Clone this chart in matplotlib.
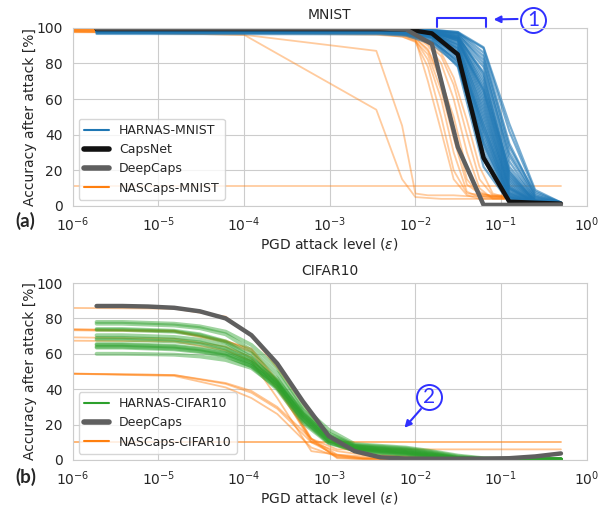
import matplotlib
matplotlib.use("Agg")
import matplotlib.pyplot as plt
import seaborn as sns
from matplotlib.lines import Line2D

sns.set_style("whitegrid")
plt.rcParams['font.family'] = ['DejaVu Sans']

# attack levels used for HARNAS / CapsNet / DeepCaps
eps = [1.9e-6, 3.8e-6, 7.6e-6, 1.53e-5, 3.05e-5, 6.1e-5, 1.22e-4, 2.44e-4, 4.88e-4,
       9.77e-4, 1.95e-3, 3.91e-3, 7.81e-3, 1.56e-2, 3.13e-2, 6.25e-2, 0.125, 0.25, 0.5]

### MNIST
capsnet_mnist = [99.2]*12 + [99.1, 96.8, 85.0, 27.0, 2.4, 1.8, 1.3]
deepcaps_mnist = [99.6]*12 + [99.0, 90.8, 33.0, 0.6, 0.6, 0.7, 0.8]

eps_harnas_mnist = [1.9e-6, 3.91e-3, 7.81e-3, 1.56e-2, 3.13e-2, 6.25e-2, 0.125, 0.25, 0.5]
harnas_mnist = [
    [99.2, 99.1, 98.8, 97.5, 93.0, 60.0, 12.0, 2.0, 1.0],
    [98.9, 98.8, 98.5, 96.8, 90.5, 52.0, 9.0, 1.5, 0.8],
    [98.6, 98.5, 98.0, 95.5, 86.0, 40.0, 5.0, 1.2, 0.6],
    [99.3, 99.2, 99.0, 98.2, 95.5, 72.0, 18.0, 3.0, 1.2],
    [98.0, 97.8, 97.2, 94.0, 80.0, 28.0, 3.0, 1.0, 0.5],
    [97.5, 97.3, 96.5, 93.0, 78.0, 22.0, 2.0, 0.8, 0.5],
    [99.0, 98.9, 98.6, 97.0, 92.0, 65.0, 15.0, 2.5, 1.0],
    [98.4, 98.3, 97.9, 96.0, 88.0, 45.0, 7.0, 1.4, 0.7],
    [99.4, 99.3, 99.2, 98.6, 96.5, 80.0, 25.0, 4.0, 1.5],
    [99.5, 99.4, 99.3, 98.9, 97.5, 86.0, 35.0, 6.0, 2.0],
    [97.0, 96.8, 96.0, 92.0, 82.0, 35.0, 4.0, 1.0, 0.5],
    [98.7, 98.6, 98.3, 97.2, 94.0, 68.0, 20.0, 3.5, 1.3],
    [99.1, 99.0, 98.7, 97.8, 94.5, 75.0, 22.0, 4.5, 1.6],
    [98.2, 98.1, 97.5, 95.0, 85.0, 38.0, 6.0, 1.3, 0.6],
    [99.4, 99.3, 99.1, 98.5, 97.0, 88.5, 42.0, 8.0, 2.0],
    [96.5, 96.3, 95.5, 91.0, 79.0, 30.0, 3.5, 0.9, 0.5],
    [98.8, 98.7, 98.4, 96.5, 91.0, 56.0, 10.0, 1.8, 0.8],
    [99.0, 98.9, 98.6, 97.3, 93.5, 62.0, 13.0, 2.2, 1.0],
    [98.5, 98.4, 98.0, 96.2, 89.0, 48.0, 8.0, 1.6, 0.7],
    [99.2, 99.1, 98.9, 98.0, 95.0, 78.0, 28.0, 5.0, 1.5],
    [97.8, 97.6, 97.0, 94.5, 84.0, 33.0, 4.5, 1.1, 0.5],
    [99.3, 99.2, 99.0, 98.4, 96.0, 82.0, 30.0, 5.5, 1.8],
    [98.3, 98.2, 97.7, 95.8, 87.0, 43.0, 6.5, 1.4, 0.6],
    [98.9, 98.8, 98.5, 97.0, 92.5, 58.0, 11.0, 2.0, 0.9],
    [99.1, 99.0, 98.8, 97.6, 94.0, 70.0, 16.0, 3.0, 1.1],
    [97.2, 97.0, 96.3, 92.5, 81.0, 26.0, 2.5, 0.8, 0.5],
    [99.4, 99.3, 99.2, 98.7, 96.8, 84.0, 33.0, 7.0, 1.9],
    [98.6, 98.5, 98.1, 96.0, 88.5, 50.0, 9.5, 1.7, 0.8],
    [99.0, 98.9, 98.7, 97.4, 93.0, 64.0, 14.0, 2.6, 1.0],
    [98.1, 98.0, 97.4, 94.8, 86.0, 42.0, 5.5, 1.2, 0.6],
    [99.3, 99.2, 99.0, 98.6, 97.6, 89.0, 46.0, 9.0, 2.0],
    [98.8, 98.7, 98.3, 96.6, 90.0, 54.0, 10.5, 2.0, 0.9],
    [99.2, 99.1, 98.9, 97.9, 95.2, 74.0, 19.0, 3.2, 1.2],
    [98.4, 98.3, 97.8, 95.6, 85.5, 46.0, 7.5, 1.5, 0.7],
    [99.0, 98.9, 98.7, 97.6, 94.2, 66.0, 17.0, 2.8, 1.1],
    [97.9, 97.7, 97.1, 94.2, 83.0, 36.0, 5.0, 1.1, 0.5],
]

eps_nascaps_mnist = [5e-7, 1e-4, 3.5e-3, 7e-3, 1e-2, 1.4e-2, 2e-2, 2.8e-2, 4e-2, 5.6e-2, 8e-2, 0.11]
nascaps_mnist = [
    [98.0, 96.0, 87.0, 45.0, 7.0, 6.0, 6.0, 6.0, 5.5, 5.5, 5.5, 5.5],
    [98.0, 96.0, 54.0, 15.0, 5.0, 4.5, 4.0, 4.0, 4.0, 4.0, 4.0, 4.0],
    [98.5, 98.0, 97.0, 96.0, 93.0, 82.0, 60.0, 30.0, 8.0, 5.0, 5.0, 5.0],
    [99.0, 98.5, 97.5, 96.5, 94.0, 88.0, 72.0, 45.0, 15.0, 6.0, 4.5, 4.5],
    [98.0, 97.5, 96.5, 95.0, 92.0, 78.0, 50.0, 20.0, 7.0, 6.5, 6.0, 6.0],
    [99.0, 98.8, 98.0, 97.0, 95.0, 90.0, 80.0, 60.0, 30.0, 10.0, 4.0, 4.0],
    [98.8, 98.5, 97.8, 96.8, 94.5, 91.0, 84.0, 68.0, 40.0, 15.0, 6.0, 4.5],
    [97.5, 97.0, 96.0, 95.0, 92.5, 85.0, 65.0, 38.0, 12.0, 7.0, 5.5, 5.5],
    [99.2, 99.0, 98.5, 97.5, 95.5, 92.0, 86.0, 72.0, 48.0, 22.0, 7.0, 5.0],
    [98.2, 97.8, 97.0, 96.0, 93.5, 70.0, 42.0, 15.0, 6.0, 4.0, 4.0, 4.0],
    [98.6, 98.2, 97.2, 96.2, 94.0, 87.0, 70.0, 50.0, 20.0, 8.0, 5.0, 5.0],
]
eps_nascaps_flat = [5e-7, 0.5]
nascaps_mnist_flat = [11.2, 11.2]

### CIFAR10
deepcaps_cifar = [87.0, 87.0, 86.7, 86.0, 84.0, 80.0, 70.5, 54.5, 33.0, 13.5, 5.0, 1.5,
                  0.8, 0.7, 0.7, 0.8, 1.0, 2.0, 3.7]
harnas_cifar = [
    [78, 78, 77.5, 77, 75.5, 72.5, 65, 52, 30, 17, 9, 8, 7, 5, 2.5, 1, 0.5, 0.4, 0.4],
    [77, 77, 76.5, 76, 74.5, 71, 62, 49, 28, 15, 8.5, 7.5, 6.5, 4.5, 2, 0.8, 0.4, 0.3, 0.3],
    [74, 74, 73.5, 73, 71, 67, 60, 46, 26, 13, 8, 7, 6, 4, 1.5, 0.6, 0.3, 0.3, 0.3],
    [73.5, 73.5, 73, 72.5, 70.5, 66.5, 58, 44, 24, 12, 7.5, 6.5, 5.5, 3.5, 1.2, 0.5, 0.3, 0.3, 0.3],
    [70.5, 70.5, 70, 69.5, 68, 64.5, 57, 45, 27, 14, 8, 6, 5, 3, 1, 0.5, 0.3, 0.3, 0.3],
    [69, 69, 68.5, 68, 66.5, 63, 56, 43, 25, 12.5, 7, 6, 4.5, 3, 1, 0.4, 0.3, 0.3, 0.3],
    [68, 68, 67.5, 67, 65.5, 62, 55, 42, 23, 11, 6.5, 5.5, 4.5, 2.5, 0.8, 0.4, 0.3, 0.3, 0.3],
    [65.5, 65.5, 65, 64.5, 63, 60.5, 55, 44, 26, 13, 7, 5, 4, 2.5, 0.8, 0.4, 0.3, 0.3, 0.3],
    [65, 65, 64.5, 64, 62.5, 60, 54, 41, 22, 10, 6, 5, 4, 2, 0.7, 0.3, 0.3, 0.3, 0.3],
    [64, 64, 63.5, 63, 61.5, 59, 53, 40, 21, 9.5, 5.5, 4.5, 3.5, 2, 0.6, 0.3, 0.3, 0.3, 0.3],
    [63.5, 63.5, 63, 62.5, 61, 58.5, 53, 43, 25, 11, 6, 4, 3, 1.5, 0.5, 0.3, 0.3, 0.3, 0.3],
    [60, 60, 59.8, 59.5, 58.5, 56.5, 52, 41, 23, 10, 5.5, 4, 3, 1.5, 0.5, 0.3, 0.3, 0.3, 0.3],
]
eps_nascaps_cifar = [5e-7, 1.53e-5, 6.1e-5, 1.22e-4, 2.44e-4, 6.1e-4, 1.22e-3, 2.44e-3, 9.77e-3, 3.9e-2, 0.5]
nascaps_cifar = [
    [86.0, 85.5, 81.0, 70.0, 52.0, 25.0, 8.0, 3.0, 1.5, 0.8, 0.5],
    [74.0, 73.0, 67.0, 63.0, 45.0, 12.0, 1.0, 0.5, 0.5, 0.5, 0.5],
    [74.0, 73.0, 67.5, 62.0, 44.0, 11.0, 1.5, 0.5, 0.5, 0.5, 0.5],
    [73.5, 72.5, 66.5, 61.0, 42.0, 10.0, 5.0, 3.0, 2.0, 1.0, 0.5],
    [69.5, 68.5, 64.0, 58.0, 40.0, 12.0, 6.0, 6.0, 6.0, 6.0, 6.0],
    [67.5, 67.0, 62.0, 56.0, 35.0, 5.0, 3.0, 2.0, 1.0, 0.5, 0.5],
    [49.0, 48.0, 43.5, 39.0, 30.0, 12.0, 3.0, 1.0, 0.5, 0.5, 0.5],
    [49.0, 47.5, 41.0, 35.0, 26.0, 7.0, 2.0, 1.0, 0.5, 0.5, 0.5],
    [49.0, 48.0, 43.0, 38.0, 29.0, 10.0, 2.5, 1.0, 0.5, 0.5, 0.5],
]
nascaps_cifar_flat = [10.0, 10.0]

blue = '#1f77b4'
orange = '#ff7f0e'
green = '#2ca02c'
annot = '#3030ff'

fig = plt.figure(figsize=(6.09, 5.08), dpi=100)
ax1 = fig.add_axes([0.1194, 0.5945, 0.8440, 0.3510])
ax2 = fig.add_axes([0.1194, 0.0945, 0.8440, 0.3484])

# top: MNIST
for row in nascaps_mnist:
    ax1.plot(eps_nascaps_mnist, row, color=orange, lw=1.3, alpha=0.4)
ax1.plot(eps_nascaps_flat, nascaps_mnist_flat, color=orange, lw=1.3, alpha=0.4)
for row in harnas_mnist:
    ax1.plot(eps_harnas_mnist, row, color=blue, lw=1.6, alpha=0.6)
ax1.plot(eps, capsnet_mnist, color='#111111', lw=3.2)
ax1.plot(eps, deepcaps_mnist, color='#5f5f5f', lw=3.2)
ax1.set_title('MNIST', fontsize=10)

h1 = [Line2D([], [], color=blue, lw=1.5),
      Line2D([], [], color='#111111', lw=4),
      Line2D([], [], color='#5f5f5f', lw=4),
      Line2D([], [], color=orange, lw=1.5)]
ax1.legend(h1, ['HARNAS-MNIST', 'CapsNet', 'DeepCaps', 'NASCaps-MNIST'],
           loc='lower left', fontsize=9, frameon=True)

# bottom: CIFAR10
for row in nascaps_cifar:
    ax2.plot(eps_nascaps_cifar, row, color=orange, lw=1.3, alpha=0.45)
ax2.plot(eps_nascaps_flat, nascaps_cifar_flat, color=orange, lw=1.3, alpha=0.6)
for row in harnas_cifar:
    ax2.plot(eps, row, color=green, lw=2.8, alpha=0.45)
ax2.plot(eps, deepcaps_cifar, color='#5f5f5f', lw=3.2)
ax2.set_title('CIFAR10', fontsize=10)

h2 = [Line2D([], [], color=green, lw=1.5),
      Line2D([], [], color='#5f5f5f', lw=4),
      Line2D([], [], color=orange, lw=1.5)]
ax2.legend(h2, ['HARNAS-CIFAR10', 'DeepCaps', 'NASCaps-CIFAR10'],
           loc='lower left', fontsize=9, frameon=True)

for ax in (ax1, ax2):
    ax.set_xscale('log')
    ax.set_xlim(1e-6, 1)
    ax.set_ylim(0, 100)
    ax.set_yticks([0, 20, 40, 60, 80, 100])
    ax.set_xticks([1e-6, 1e-5, 1e-4, 1e-3, 1e-2, 1e-1, 1])
    ax.minorticks_off()
    ax.tick_params(labelsize=10)
    ax.set_xlabel(r'PGD attack level ($\epsilon$)', fontsize=10, labelpad=1.5)
    ax.set_ylabel('Accuracy after attack [%]', fontsize=10, labelpad=0)

fig.text(0.042, 0.566, '(a)', fontsize=13.5, weight='bold', family='Lato', ha='center', va='center')
fig.text(0.042, 0.062, '(b)', fontsize=13.5, weight='bold', family='Lato', ha='center', va='center')

# annotation 1: bracket, arrow and circled number
ax1.plot([0.0178, 0.0178, 0.066, 0.066], [100.6, 105.4, 105.4, 100.6],
         color=annot, lw=1.5, clip_on=False)
ax1.annotate('', xy=(0.076, 104.6), xytext=(0.168, 104.9),
             arrowprops=dict(arrowstyle='-|>', color=annot, lw=1.5, mutation_scale=10),
             annotation_clip=False)
ax1.plot([0.236], [104.5], 'o', ms=18, mfc='none', mec=annot, mew=1.4, clip_on=False)
ax1.text(0.236, 104.5, '1', color=annot, fontsize=15, family='Lato',
         ha='center', va='center', clip_on=False)

# annotation 2
ax2.annotate('', xy=(0.0071, 17.0), xytext=(0.0122, 30.0),
             arrowprops=dict(arrowstyle='-|>', color=annot, lw=1.5, mutation_scale=10))
ax2.plot([0.0145], [35.8], 'o', ms=18, mfc='none', mec=annot, mew=1.4)
ax2.text(0.0145, 35.8, '2', color=annot, fontsize=15, family='Lato',
         ha='center', va='center')

fig.savefig('out.png', dpi=100)
